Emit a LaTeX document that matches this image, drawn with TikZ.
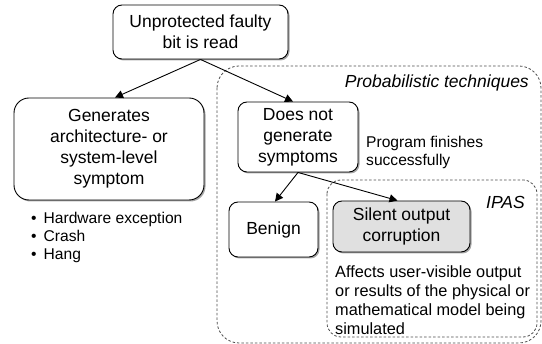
\documentclass[tikz,border=0pt]{standalone}
\usepackage{fontspec}
\setmainfont{Liberation Sans}
\usetikzlibrary{arrows.meta,shadows}
\begin{document}
\begin{tikzpicture}[x=1pt,y=-1pt,
  box/.style={draw=black,line width=0.9pt,rounded corners=9pt,fill=white,align=center,inner sep=0pt,
    drop shadow={shadow xshift=1.5pt,shadow yshift=-1.5pt,opacity=0.35,fill=black}},
  big/.style={font=\fontsize{17.5}{21}\selectfont},
  small/.style={font=\fontsize{15.6}{18}\selectfont,inner sep=0pt},
  arr/.style={-{Triangle[length=8pt,width=8pt]},line width=0.9pt},
  dbox/.style={draw=black!70,line width=0.8pt,dash pattern=on 2.5pt off 2pt}]
\useasboundingbox (0,0) rectangle (542,344);
% dashed regions
\draw[dbox,rounded corners=22pt] (217,66) rectangle (541,343);
\draw[dbox,rounded corners=14pt] (327,180) rectangle (537,337);
% nodes
\node[box,big,minimum width=175pt,minimum height=54pt] (top) at (200.5,32) {Unprotected faulty\\bit is read};
\node[box,big,rounded corners=15pt,minimum width=190pt,minimum height=102pt] (gen) at (109,149) {Generates\\architecture- or\\system-level\\symptom};
\node[box,big,minimum width=120pt,minimum height=70pt] (dn) at (298,137) {Does not\\generate\\symptoms};
\node[box,big,minimum width=89pt,minimum height=55pt] (ben) at (273.5,229.5) {Benign};
\node[box,big,fill=black!12,minimum width=137pt,minimum height=51pt] (sil) at (401.5,226.5) {Silent output\\corruption};
% labels
\node[big,font=\fontsize{17.5}{21}\selectfont\itshape,anchor=east,inner sep=0pt] (prob) at (529,83) {Probabilistic techniques};
\node[big,font=\fontsize{17.5}{21}\selectfont\itshape,anchor=east,inner sep=0pt] (ipas) at (525,202) {IPAS};
\node[small,anchor=west,align=left] (fin) at (366,152) {Program finishes\\successfully};
\node[small,anchor=west,align=left] (bul) at (31,237) {\textbullet\hspace{7pt}Hardware exception\\\textbullet\hspace{7pt}Crash\\\textbullet\hspace{7pt}Hang};
\node[small,font=\fontsize{16.3}{19}\selectfont,anchor=west,align=left] (aff) at (335,300) {Affects user-visible output\\or results of the physical or\\mathematical model being\\simulated};
% arrows
\draw[arr] (top.south) -- ([xshift=6pt]gen.north);
\draw[arr] (top.south) -- ([xshift=-5pt]dn.north);
\draw[arr] (dn.south) -- ([xshift=1.5pt]ben.north);
\draw[arr] (dn.south) -- ([xshift=-4pt]sil.north);
\end{tikzpicture}
\end{document}
